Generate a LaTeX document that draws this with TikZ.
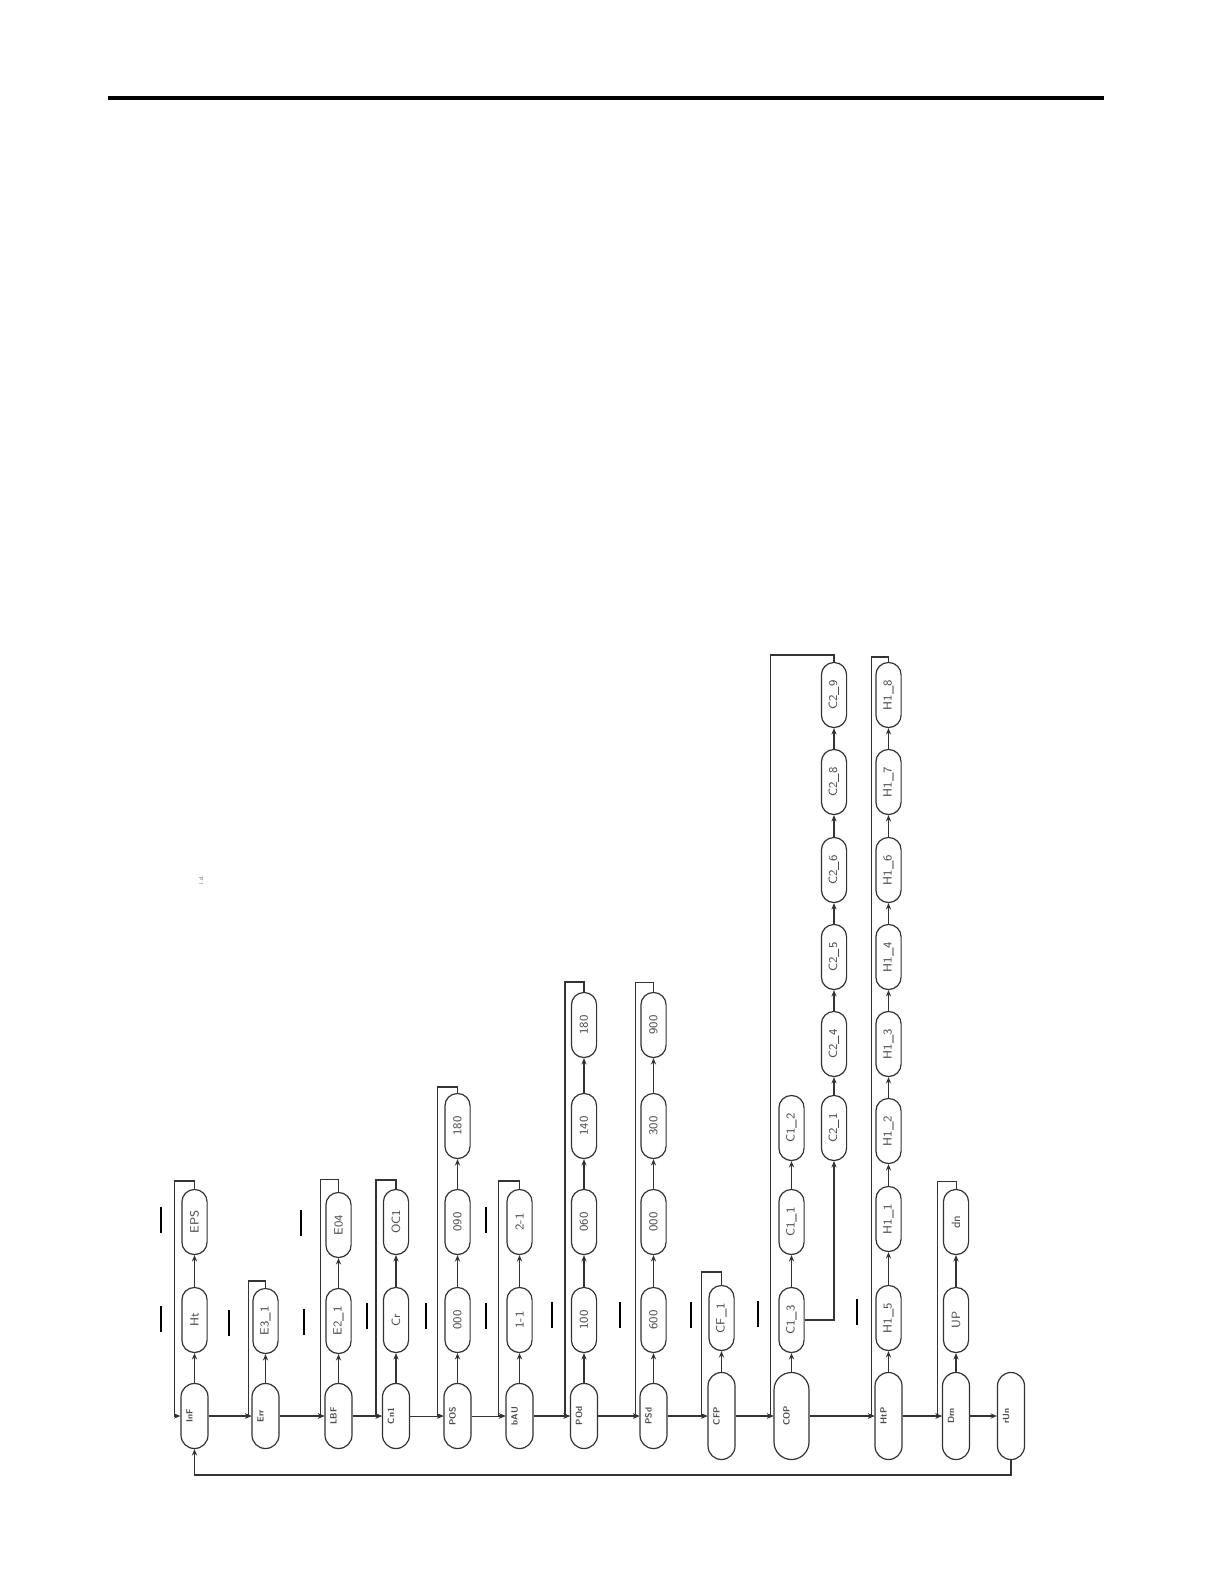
\documentclass[tikz,border=0pt]{standalone}
\usepackage{graphicx}
\usetikzlibrary{arrows.meta,positioning,calc}

\newcommand{\seg}[1]{\rotatebox{90}{#1}}
\newcommand{\menutxt}[1]{\rotatebox{90}{#1}\hspace*{5pt}}

\tikzset{
  disp/.style={draw=black!80, line width=0.6pt, rectangle, rounded corners=6.2pt,
    minimum width=12.6pt, minimum height=32.5pt, inner sep=0pt, text=black!70,
    font=\sffamily\fontsize{6}{6}\selectfont},
  menu/.style={disp, minimum width=13.5pt, rounded corners=6.7pt,
    font=\sffamily\bfseries\fontsize{4.5}{4.5}\selectfont},
  menutall/.style={menu, minimum height=43.5pt},
  menuwide/.style={menutall, minimum width=17.5pt, rounded corners=8.7pt},
  flow/.style={draw=black!80, line width=0.9pt, -{Stealth[length=3.2pt,width=2.6pt]}},
  thinflow/.style={flow, line width=0.5pt},
  stub/.style={draw=black, line width=0.6pt},
  stubthick/.style={stub, line width=1.2pt},
}

\begin{document}
\begin{tikzpicture}[x=0.5pt,y=-0.5pt]
\useasboundingbox (0,0) rectangle (1224,1584);
\draw[line width=1.6pt] (108,98) -- (1104,98);

% main menu row
\node[menu] (inf) at (194.5,1416) {\menutxt{InF}};
\node[menu] (err) at (265.5,1416) {\menutxt{Err}};
\node[menu] (lbf) at (338.5,1416) {\menutxt{LBF}};
\node[menu] (cn1) at (396,1416) {\menutxt{Cn1}};
\node[menu] (pos) at (457.5,1416) {\menutxt{POS}};
\node[menu] (bau) at (519.5,1416) {\menutxt{bAU}};
\node[menu] (pod) at (584,1416) {\menutxt{POd}};
\node[menu] (psd) at (653.5,1416) {\menutxt{PSd}};
\node[menutall] (cfp) at (721.5,1416) {\menutxt{CFP}};
\node[menuwide] (cop) at (791.5,1416) {\menutxt{COP}};
\node[menutall] (htp) at (888.5,1416) {\menutxt{HtP}};
\node[menutall] (drn) at (956,1416) {\menutxt{Drn}};
\node[menutall] (run) at (1011,1416) {\menutxt{rUn}};

% sub items
\node[disp] (ht) at (194.5,1320) {\seg{Ht}};
\node[disp] (eps) at (194.5,1222) {\seg{EPS}};
\node[disp] (e31) at (265.5,1321) {\seg{E3\_1}};
\node[disp] (e21) at (338.5,1321) {\seg{E2\_1}};
\node[disp] (e04) at (338.5,1225) {\seg{E04}};
\node[disp] (cr) at (396,1320) {\seg{Cr}};
\node[disp] (oc1) at (396,1222) {\seg{OC1}};
\node[disp] (pa) at (457.5,1320) {\seg{000}};
\node[disp] (pb) at (457.5,1222) {\seg{090}};
\node[disp] (pc) at (457.5,1126) {\seg{180}};
\node[disp] (ba) at (519.5,1320) {\seg{1-1}};
\node[disp] (bb) at (519.5,1222) {\seg{2-1}};
\node[disp] (da) at (584,1320) {\seg{100}};
\node[disp] (db) at (584,1222) {\seg{060}};
\node[disp] (dc) at (584,1126) {\seg{140}};
\node[disp] (dd) at (584,1025) {\seg{180}};
\node[disp] (sa) at (653.5,1320) {\seg{600}};
\node[disp] (sb) at (653.5,1222) {\seg{000}};
\node[disp] (sc) at (653.5,1126) {\seg{300}};
\node[disp] (sd) at (653.5,1025) {\seg{900}};
\node[disp] (cf1) at (721.5,1318) {\seg{CF\_1}};
\node[disp] (c13) at (791.5,1320) {\seg{C1\_3}};
\node[disp] (c11) at (791.5,1222) {\seg{C1\_1}};
\node[disp] (c12) at (791.5,1128) {\seg{C1\_2}};
\node[disp] (c21) at (834,1128) {\seg{C2\_1}};
\node[disp] (c24) at (834,1044) {\seg{C2\_4}};
\node[disp] (c25) at (834,957) {\seg{C2\_5}};
\node[disp] (c26) at (834,870) {\seg{C2\_6}};
\node[disp] (c28) at (834,782) {\seg{C2\_8}};
\node[disp] (c29) at (834,695) {\seg{C2\_9}};
\node[disp] (h15) at (888.5,1318) {\seg{H1\_5}};
\node[disp] (h11) at (888.5,1219) {\seg{H1\_1}};
\node[disp] (h12) at (888.5,1131) {\seg{H1\_2}};
\node[disp] (h13) at (888.5,1044) {\seg{H1\_3}};
\node[disp] (h14) at (888.5,957) {\seg{H1\_4}};
\node[disp] (h16) at (888.5,870) {\seg{H1\_6}};
\node[disp] (h17) at (888.5,782) {\seg{H1\_7}};
\node[disp] (h18) at (888.5,695) {\seg{H1\_8}};
\node[disp] (up) at (956,1320) {\seg{UP}};
\node[disp] (dn) at (956,1222) {\seg{dn}};
\node[font=\sffamily\fontsize{3}{3}\selectfont, text=black!60, inner sep=0pt] (note) at (201,880) {\seg{i.d.}};

% main row
\draw[flow] (inf.east) -- (err.west);
\draw[flow] (err.east) -- (lbf.west);
\draw[flow] (lbf.east) -- (cn1.west);
\draw[thinflow] (cn1.east) -- (pos.west);
\draw[thinflow] (pos.east) -- (bau.west);
\draw[flow] (bau.east) -- (pod.west);
\draw[flow] (pod.east) -- (psd.west);
\draw[flow] (psd.east) -- (cfp.west);
\draw[flow] (cfp.east) -- (cop.west);
\draw[flow] (cop.east) -- (htp.west);
\draw[flow] (htp.east) -- (drn.west);
\draw[flow] (drn.east) -- (run.west);
\draw[flow] (run.south) -- ++(0,15) -| (inf.south);

% columns
\draw[flow] (inf.north) -- (ht.south);
\draw[flow] (ht.north) -- (eps.south);
\draw[flow] (eps.north) -- ++(0,-8) -| ([xshift=-3pt]inf.west) -- (inf.west);
\draw[flow] (err.north) -- (e31.south);
\draw[flow] (e31.north) -- ++(0,-7) -| ([xshift=-1.5pt]err.west) -- (err.west);
\draw[thinflow] (lbf.north) -- (e21.south);
\draw[thinflow] (e21.north) -- (e04.south);
\draw[thinflow] (e04.north) -- ++(0,-12) -| ([xshift=-2pt]lbf.west) -- (lbf.west);
\draw[flow] (cn1.north) -- (cr.south);
\draw[flow] (cr.north) -- (oc1.south);
\draw[flow] (oc1.north) -- ++(0,-9) -| ([xshift=-3pt]cn1.west) -- (cn1.west);
\draw[thinflow] (pos.north) -- (pa.south);
\draw[flow] (pa.north) -- (pb.south);
\draw[flow] (pb.north) -- (pc.south);
\draw[flow] (pc.north) -- ++(0,-6) -| ([xshift=-3pt]pos.west) -- (pos.west);
\draw[flow] (bau.north) -- (ba.south);
\draw[flow] (ba.north) -- (bb.south);
\draw[flow] (bb.north) -- ++(0,-8) -| ([xshift=-3.5pt]bau.west) -- (bau.west);
\draw[flow] (pod.north) -- (da.south);
\draw[flow] (da.north) -- (db.south);
\draw[flow] (db.north) -- (dc.south);
\draw[flow] (dc.north) -- (dd.south);
\draw[flow] (dd.north) -- ++(0,-10) -| ([xshift=-2.5pt]pod.west) -- (pod.west);
\draw[thinflow] (psd.north) -- (sa.south);
\draw[thinflow] (sa.north) -- (sb.south);
\draw[thinflow] (sb.north) -- (sc.south);
\draw[thinflow] (sc.north) -- (sd.south);
\draw[thinflow] (sd.north) -- ++(0,-9) -| ([xshift=-2pt]psd.west) -- (psd.west);
\draw[thinflow] (cfp.north) -- (cf1.south);
\draw[flow] (cf1.north) -- ++(0,-13) -| ([xshift=-3pt]cfp.west) -- (cfp.west);
\draw[thinflow] (cop.north) -- (c13.south);
\draw[thinflow] (c13.north) -- (c11.south);
\draw[thinflow] (c11.north) -- (c12.south);
\draw[flow] (c13.east) -| (c21.south);
\draw[flow] (c21.north) -- (c24.south);
\draw[flow] (c24.north) -- (c25.south);
\draw[flow] (c25.north) -- (c26.south);
\draw[flow] (c26.north) -- (c28.south);
\draw[flow] (c28.north) -- (c29.south);
\draw[flow] (c29.north) -- ++(0,-7) -| ([xshift=-1.5pt]cop.west) -- (cop.west);
\draw[thinflow] (htp.north) -- (h15.south);
\draw[flow] (h15.north) -- (h11.south);
\draw[flow] (h11.north) -- (h12.south);
\draw[flow] (h12.north) -- (h13.south);
\draw[flow] (h13.north) -- (h14.south);
\draw[flow] (h14.north) -- (h16.south);
\draw[flow] (h16.north) -- (h17.south);
\draw[flow] (h17.north) -- (h18.south);
\draw[flow] (h18.north) -- ++(0,-5) -| ([xshift=-1.5pt]htp.west) -- (htp.west);
\draw[flow] (drn.north) -- (up.south);
\draw[flow] (up.north) -- (dn.south);
\draw[thinflow] (dn.north) -- ++(0,-7) -| ([xshift=-2pt]drn.west) -- (drn.west);

% stray bars
\foreach \x/\y in {161/1306, 229/1310, 301/1210, 304/1309, 367/1303, 426/1303,
  486/1207, 486/1303, 552/1302, 620/1302, 691/1302}
  \draw[stub] (\x,\y) -- ++(0,26);
\foreach \x/\y in {161/1207, 758/1301, 857/1299}
  \draw[stubthick] (\x,\y) -- ++(0,26);
\end{tikzpicture}
\end{document}
